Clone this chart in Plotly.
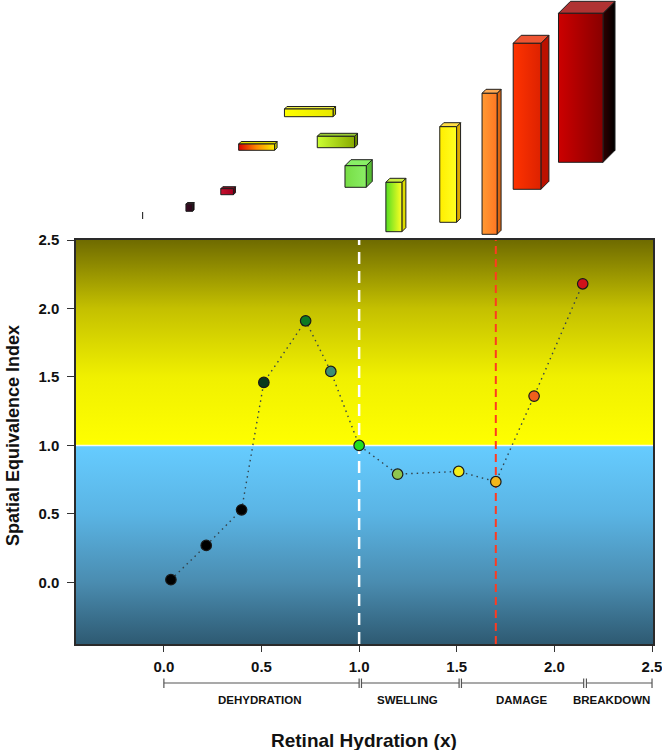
import plotly.graph_objects as go

# ---------------- data ----------------
hydration = [0.036, 0.217, 0.398, 0.512, 0.726, 0.855, 1.0, 1.197, 1.51, 1.70, 1.896, 2.145]
sei = [0.02, 0.27, 0.53, 1.46, 1.91, 1.54, 1.0, 0.79, 0.81, 0.735, 1.36, 2.18]
point_colors = ['#000000', '#000000', '#000000', '#0b3a1c', '#0d7a22', '#3b8f74',
                '#22e01e', '#8fc64e', '#f5ee1a', '#f2b61c', '#f0601c', '#d0121a']

x_ticks = [0.0, 0.5, 1.0, 1.5, 2.0, 2.5]
y_ticks = [0.0, 0.5, 1.0, 1.5, 2.0, 2.5]

threshold_sei = 1.0
swelling_onset = 1.0
damage_onset = 1.70

phase_names = ['DEHYDRATION', 'SWELLING', 'DAMAGE', 'BREAKDOWN']
phase_start = [0.0, 1.012, 1.524, 2.164]
phase_end = [1.0, 1.512, 2.150, 2.5]
phase_label_x = [0.49, 1.25, 1.83, 2.295]

# illustrative 3D cells above the chart (centre / width in hydration units,
# base / height / depth in illustration units)
cell_x = [-0.109, 0.130, 0.324, 0.475, 0.742, 0.881, 0.982, 1.178, 1.456, 1.668, 1.860, 2.135]
cell_w = [0.005, 0.034, 0.065, 0.184, 0.249, 0.191, 0.109, 0.082, 0.086, 0.077, 0.142, 0.228]
cell_base = [21, 28.7, 45.3, 89.7, 123.3, 92.3, 52.7, 8.3, 17.7, 5.7, 50.7, 77.7]
cell_h = [7, 7.3, 6, 6.3, 7.7, 11.4, 21.6, 49.4, 95.6, 141, 146, 149]
cell_depth = [0, 1.5, 2, 2.5, 2.5, 3, 6, 4, 4, 4, 8, 12]

cell_front = [
    ['#333333', '#333333'],
    ['#3a0a22', '#2a0618'],
    ['#c8102e', '#a00020'],
    ['#dd0000', '#ff8800', '#ffee00'],
    ['#ffff00', '#e8e800'],
    ['#ccff33', '#88aa00'],
    ['#77dd44', '#8aee66'],
    ['#55dd22', '#ffff22'],
    ['#ffee00', '#ffff22'],
    ['#ff9933', '#ff7722'],
    ['#ff3300', '#dd2200'],
    ['#cc0000', '#880000'],
]
cell_top = ['#333333', '#5a1a30', '#801020', '#e0dd00', '#eeee44', '#99cc33',
            '#88ee66', '#ccee44', '#ffdd44', '#ffaa55', '#ee5533', '#b03333']
cell_side = [
    ['#222222', '#222222'],
    ['#200010', '#200010'],
    ['#600010', '#600010'],
    ['#cccc00', '#cccc00'],
    ['#c8c800', '#c8c800'],
    ['#668800', '#668800'],
    ['#55bb33', '#55bb33'],
    ['#dddd00', '#dddd00'],
    ['#ddaa00', '#ddaa00'],
    ['#dd6611', '#dd6611'],
    ['#bb1100', '#bb1100'],
    ['#300000', '#000000'],
]

# ---------------- layout constants ----------------
W, H = 662, 750
M_L, M_R, M_T, M_B = 76, 9, 0, 106
PLOT_W = W - M_L - M_R
PLOT_H = H - M_T - M_B
MAIN_TOP_PX = 240  # pixel (from top of figure) where main plot area starts
MAIN_DOMAIN_TOP = (PLOT_H - (MAIN_TOP_PX - M_T)) / PLOT_H
X_MIN, X_MAX = -0.45, 2.505
Y_MIN, Y_MAX = -0.45, 2.5
ILL_RANGE = MAIN_TOP_PX - M_T
PX_PER_X = PLOT_W / (X_MAX - X_MIN)

FONT = "Arial, 'Liberation Sans', sans-serif"


def paper_y(px):
    return (H - M_B - px) / PLOT_H


def paper_x(px):
    return (px - M_L) / PLOT_W


fig = go.Figure()

# background gradients
fig.add_trace(go.Scatter(
    x=[X_MIN, X_MAX, X_MAX, X_MIN, X_MIN], y=[threshold_sei, threshold_sei, Y_MAX, Y_MAX, threshold_sei],
    mode='lines', line=dict(width=0), fill='toself',
    fillgradient=dict(type='vertical', colorscale=[[0, '#ffff00'], [0.333, '#f0f000'],
                                                   [0.667, '#c4c000'], [1, '#6f6b00']]),
    hoverinfo='skip', showlegend=False))
fig.add_trace(go.Scatter(
    x=[X_MIN, X_MAX, X_MAX, X_MIN, X_MIN], y=[Y_MIN, Y_MIN, threshold_sei, threshold_sei, Y_MIN],
    mode='lines', line=dict(width=0), fill='toself',
    fillgradient=dict(type='vertical', colorscale=[[0, '#2e5a72'], [0.31, '#4a8cb0'],
                                                   [0.655, '#5ab4e4'], [1, '#66ccff']]),
    hoverinfo='skip', showlegend=False))
# threshold line
fig.add_trace(go.Scatter(x=[X_MIN, X_MAX], y=[threshold_sei, threshold_sei], mode='lines',
                         line=dict(color='rgba(255,255,255,0.85)', width=1.5),
                         hoverinfo='skip', showlegend=False))
# vertical dashed lines
fig.add_trace(go.Scatter(x=[swelling_onset, swelling_onset], y=[Y_MIN, Y_MAX], mode='lines',
                         line=dict(color='#ffffff', width=2.5, dash='12px,7px'),
                         hoverinfo='skip', showlegend=False))
fig.add_trace(go.Scatter(x=[damage_onset, damage_onset], y=[Y_MIN, Y_MAX], mode='lines',
                         line=dict(color='#ff3b1f', width=2, dash='8px,5px'),
                         hoverinfo='skip', showlegend=False))
# data
fig.add_trace(go.Scatter(
    x=hydration, y=sei, mode='lines+markers',
    line=dict(color='#34444c', width=1.4, dash='1.5px,4px'),
    marker=dict(size=10.5, color=point_colors, line=dict(color='#1a1a1a', width=1.2)),
    showlegend=False))

# illustrative 3D cells
OUT = dict(color='#1e1e1e', width=1)
for i in range(len(cell_x)):
    L = cell_x[i] - cell_w[i] / 2
    R = cell_x[i] + cell_w[i] / 2
    B = cell_base[i]
    T = cell_base[i] + cell_h[i]
    d = cell_depth[i]
    dx = d / PX_PER_X
    if d == 0:
        fig.add_trace(go.Scatter(x=[cell_x[i], cell_x[i]], y=[B, T], xaxis='x', yaxis='y2',
                                 mode='lines', line=dict(color=cell_front[i][0], width=1.2),
                                 hoverinfo='skip', showlegend=False))
        continue
    # side face
    sc = cell_side[i]
    fig.add_trace(go.Scatter(
        x=[R, R + dx, R + dx, R, R], y=[B, B + d, T + d, T, B], xaxis='x', yaxis='y2',
        mode='lines', line=OUT, fill='toself',
        fillgradient=dict(type='horizontal', colorscale=[[0, sc[0]], [1, sc[1]]]),
        hoverinfo='skip', showlegend=False))
    # top face
    fig.add_trace(go.Scatter(
        x=[L, R, R + dx, L + dx, L], y=[T, T, T + d, T + d, T], xaxis='x', yaxis='y2',
        mode='lines', line=OUT, fill='toself', fillcolor=cell_top[i],
        hoverinfo='skip', showlegend=False))
    # front face
    fc = cell_front[i]
    cs = [[k / (len(fc) - 1), c] for k, c in enumerate(fc)]
    fig.add_trace(go.Scatter(
        x=[L, R, R, L, L], y=[B, B, T, T, B], xaxis='x', yaxis='y2',
        mode='lines', line=OUT, fill='toself',
        fillgradient=dict(type='horizontal', colorscale=cs),
        hoverinfo='skip', showlegend=False))

# phase brackets
shapes = []
BR_Y = paper_y(683)
BR_Y0 = paper_y(678.5)
BR_Y1 = paper_y(688)
for s, e in zip(phase_start, phase_end):
    shapes.append(dict(type='line', xref='x', yref='paper', x0=s, x1=e, y0=BR_Y, y1=BR_Y,
                       line=dict(color='#555555', width=1.2)))
    for xx in (s, e):
        shapes.append(dict(type='line', xref='x', yref='paper', x0=xx, x1=xx, y0=BR_Y0, y1=BR_Y1,
                           line=dict(color='#555555', width=1.2)))

annotations = []
for name, xx in zip(phase_names, phase_label_x):
    annotations.append(dict(text=name, xref='x', yref='paper', x=xx, y=paper_y(700),
                            xanchor='center', yanchor='middle', showarrow=False,
                            font=dict(family=FONT, size=11.5, color='#111111', weight='bold')))
annotations.append(dict(text='Retinal Hydration (x)', xref='paper', yref='paper',
                        x=paper_x(364), y=paper_y(740), xanchor='center', yanchor='middle',
                        showarrow=False,
                        font=dict(family=FONT, size=19, color='#111111', weight='bold')))
annotations.append(dict(text='Spatial Equivalence Index', xref='paper', yref='paper',
                        x=paper_x(13), y=paper_y(436), xanchor='center', yanchor='middle',
                        textangle=-90, showarrow=False,
                        font=dict(family=FONT, size=18, color='#111111', weight='bold')))

AX_LINE = dict(showline=True, mirror=True, linecolor='#2a2a2a', linewidth=1.5,
               showgrid=False, zeroline=False, ticks='outside', tickcolor='#333333',
               automargin=False, ticklabeloverflow='allow')

fig.update_layout(
    width=W, height=H, autosize=False,
    margin=dict(l=M_L, r=M_R, t=M_T, b=M_B, pad=0, autoexpand=False),
    paper_bgcolor='#ffffff', plot_bgcolor='#ffffff',
    font=dict(family=FONT, color='#111111'),
    xaxis=dict(range=[X_MIN, X_MAX], tickvals=x_ticks, ticktext=[f'{v:.1f}' for v in x_ticks],
               ticklen=6, ticklabelstandoff=2, anchor='y',
               tickfont=dict(family=FONT, size=15, color='#111111', weight='bold'), **AX_LINE),
    yaxis=dict(range=[Y_MIN, Y_MAX], domain=[0, MAIN_DOMAIN_TOP], tickvals=y_ticks,
               ticktext=[f'{v:.1f}' for v in y_ticks], ticklen=7, ticklabelstandoff=5, anchor='x',
               tickfont=dict(family=FONT, size=15, color='#111111', weight='bold'), **AX_LINE),
    yaxis2=dict(range=[0, ILL_RANGE], domain=[MAIN_DOMAIN_TOP, 1], visible=False, anchor='x',
                fixedrange=True, automargin=False),
    shapes=shapes,
    annotations=annotations,
)

fig.write_html('out.html', config={'displayModeBar': False},
               post_script="document.body.style.margin='0px';")
